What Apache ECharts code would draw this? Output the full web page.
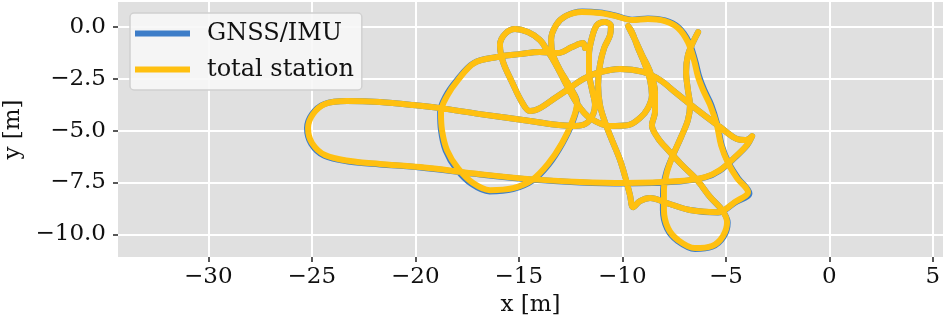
<!DOCTYPE html>
<html><head><meta charset="utf-8">
<script src="https://cdn.jsdelivr.net/npm/echarts@6/dist/echarts.min.js"></script>
<style>html,body{margin:0;padding:0;background:#fff}#c{width:945px;height:322px}</style>
</head><body><div id="c"></div>
<script>
// total station trajectory (metres)
const tsX = [-11.80,-11.90,-12.43,-13.11,-13.98,-14.94,-16.05,-17.16,-17.94,-18.47,-18.76,-18.71,-18.47,-17.94,-17.21,-16.39,-15.28,-14.36,-13.59,-12.91,-12.43,-12.19,-12.53,-13.01,-13.35,-13.44,-13.20,-12.72,-11.95,-11.08,-10.35,-9.53,-8.76,-7.94,-7.31,-6.83,-6.54,-6.34,-6.10,-5.76,-5.43,-5.23,-4.89,-4.46,-3.93,-4.56,-5.38,-6.73,-7.84,-8.66,-9.15,-9.48,-9.63,-9.82,-10.11,-10.50,-10.84,-11.08,-11.17,-11.08,-10.88,-10.59,-10.55,-10.84,-11.22,-11.46,-11.61,-11.61,-11.46,-11.32,-11.66,-12.29,-13.49,-14.46,-16.87,-18.81,-20.11,-21.71,-23.30,-24.36,-24.94,-25.18,-24.99,-24.36,-23.15,-21.71,-19.77,-16.87,-14.46,-12.04,-9.87,-7.21,-6.00,-5.28,-4.56,-3.98,-3.73,-4.07,-4.46,-5.28,-6.49,-7.45,-8.18,-9.00,-10.11,-11.22,-11.90,-12.53,-13.25,-13.98,-14.46,-14.85,-15.33,-15.76,-15.91,-15.67,-15.18,-14.56,-13.98,-13.64,-13.25,-12.77,-12.14,-11.56,-10.59,-9.72,-9.15,-8.76,-8.57,-8.66,-8.90,-9.24,-9.53,-9.72,-9.43,-9.05,-8.66,-8.42,-8.42,-8.57,-8.28,-7.79,-7.12,-6.39,-5.76,-5.18,-4.94,-5.14,-5.67,-6.49,-7.31,-7.79,-7.99,-7.99,-7.84,-7.55,-7.16,-6.83,-6.73,-6.83,-6.92,-6.83,-6.58,-6.34];
const tsY = [-1.03,-0.79,-0.98,-1.27,-1.22,-1.32,-1.46,-1.75,-2.57,-3.34,-4.11,-4.98,-5.94,-6.81,-7.53,-7.87,-7.77,-7.38,-6.61,-5.60,-4.59,-3.68,-2.90,-2.09,-1.36,-0.64,0.08,0.52,0.71,0.66,0.52,0.32,0.37,0.27,-0.06,-0.74,-1.60,-2.42,-3.05,-3.77,-4.74,-5.70,-6.57,-7.29,-7.96,-8.44,-8.93,-8.83,-8.49,-8.25,-8.40,-8.69,-8.11,-7.38,-6.42,-5.46,-4.59,-3.77,-2.81,-1.84,-1.03,-0.40,0.03,0.23,0.08,-0.50,-1.36,-2.18,-3.05,-3.77,-4.59,-4.78,-4.69,-4.54,-4.21,-3.92,-3.77,-3.63,-3.58,-3.72,-4.21,-4.88,-5.60,-6.18,-6.47,-6.61,-6.76,-7.10,-7.34,-7.48,-7.53,-7.43,-7.24,-6.90,-6.28,-5.70,-5.27,-5.46,-5.41,-4.83,-3.92,-3.15,-2.57,-2.18,-2.04,-2.23,-2.52,-2.95,-3.43,-3.92,-4.06,-3.63,-2.66,-1.70,-0.88,-0.35,-0.11,-0.26,-0.64,-1.12,-1.75,-2.66,-3.77,-4.40,-4.78,-4.74,-4.40,-3.92,-3.29,-2.57,-1.84,-1.03,-0.26,0.03,-0.54,-1.36,-2.18,-3.15,-4.11,-4.74,-5.36,-5.94,-6.66,-7.38,-8.20,-8.83,-9.41,-10.08,-10.56,-10.66,-10.27,-9.70,-8.83,-7.87,-7.00,-6.18,-5.31,-4.49,-3.77,-3.05,-2.18,-1.36,-0.74,-0.26];
// GNSS/IMU trajectory (metres)
const gnssX = [-11.80,-11.90,-12.43,-13.11,-13.98,-14.94,-16.05,-17.18,-17.99,-18.53,-18.80,-18.76,-18.53,-18.01,-17.27,-16.42,-15.28,-14.33,-13.55,-12.88,-12.40,-12.17,-12.53,-13.01,-13.35,-13.44,-13.20,-12.72,-11.95,-11.08,-10.35,-9.53,-8.76,-7.94,-7.28,-6.78,-6.49,-6.28,-6.04,-5.70,-5.40,-5.20,-4.86,-4.41,-3.86,-4.56,-5.38,-6.73,-7.84,-8.66,-9.15,-9.48,-9.63,-9.82,-10.11,-10.50,-10.84,-11.08,-11.17,-11.08,-10.88,-10.59,-10.55,-10.84,-11.22,-11.46,-11.61,-11.61,-11.46,-11.32,-11.66,-12.29,-13.49,-14.46,-16.87,-18.81,-20.11,-21.71,-23.30,-24.39,-24.99,-25.23,-25.03,-24.39,-23.15,-21.71,-19.77,-16.87,-14.46,-12.04,-9.87,-7.21,-6.00,-5.28,-4.56,-3.98,-3.73,-4.07,-4.46,-5.28,-6.49,-7.45,-8.18,-9.00,-10.11,-11.22,-11.90,-12.53,-13.25,-13.98,-14.46,-14.85,-15.33,-15.76,-15.91,-15.67,-15.18,-14.56,-13.98,-13.64,-13.25,-12.77,-12.14,-11.56,-10.59,-9.72,-9.15,-8.76,-8.57,-8.66,-8.90,-9.24,-9.53,-9.72,-9.43,-9.05,-8.66,-8.42,-8.42,-8.57,-8.28,-7.79,-7.12,-6.39,-5.76,-5.18,-4.91,-5.11,-5.67,-6.49,-7.34,-7.84,-8.04,-8.03,-7.87,-7.55,-7.16,-6.83,-6.73,-6.83,-6.92,-6.83,-6.58,-6.34];
const gnssY = [-1.03,-0.79,-0.98,-1.27,-1.22,-1.32,-1.46,-1.75,-2.57,-3.34,-4.11,-4.98,-5.97,-6.86,-7.58,-7.93,-7.82,-7.41,-6.63,-5.60,-4.59,-3.68,-2.90,-2.09,-1.36,-0.64,0.08,0.52,0.73,0.68,0.54,0.34,0.40,0.30,-0.04,-0.74,-1.60,-2.42,-3.05,-3.77,-4.74,-5.70,-6.57,-7.29,-8.02,-8.47,-8.95,-8.83,-8.49,-8.25,-8.40,-8.69,-8.11,-7.38,-6.42,-5.46,-4.59,-3.77,-2.81,-1.84,-1.03,-0.40,0.03,0.23,0.08,-0.50,-1.36,-2.18,-3.05,-3.77,-4.59,-4.78,-4.69,-4.54,-4.21,-3.92,-3.77,-3.63,-3.58,-3.72,-4.21,-4.88,-5.63,-6.22,-6.50,-6.63,-6.78,-7.12,-7.36,-7.50,-7.55,-7.45,-7.26,-6.92,-6.30,-5.72,-5.27,-5.46,-5.41,-4.83,-3.92,-3.15,-2.57,-2.18,-2.04,-2.23,-2.52,-2.95,-3.43,-3.92,-4.06,-3.63,-2.66,-1.70,-0.88,-0.35,-0.11,-0.26,-0.64,-1.12,-1.75,-2.66,-3.77,-4.40,-4.78,-4.74,-4.40,-3.92,-3.29,-2.57,-1.84,-1.03,-0.26,0.03,-0.54,-1.36,-2.18,-3.15,-4.11,-4.74,-5.36,-5.94,-6.66,-7.38,-8.20,-8.83,-9.43,-10.12,-10.60,-10.70,-10.31,-9.72,-8.83,-7.87,-7.00,-6.18,-5.31,-4.49,-3.77,-3.05,-2.18,-1.36,-0.74,-0.26];
const xTicks = [-30,-25,-20,-15,-10,-5,0,5];
const yTicks = [-10,-7.5,-5,-2.5,0];
const seriesNames = ['GNSS/IMU','total station'];

const font = 'DejaVu Serif';
const minus = s => s.replace('-', '\u2212');
const pairs = (xs, ys) => xs.map((x, i) => [x, ys[i]]);

const chart = echarts.init(document.getElementById('c'), null, {renderer: 'canvas'});
chart.setOption({
  animation: false,
  backgroundColor: '#ffffff',
  grid: {left: 118, right: 2, top: 2, bottom: 65, show: true, backgroundColor: '#e0e0e0', borderWidth: 0,
         containLabel: false, outerBoundsMode: 'none'},
  legend: {
    orient: 'vertical', left: 130, top: 13,
    data: seriesNames,
    icon: 'rect', itemWidth: 55, itemHeight: 6, itemGap: 9,
    padding: [7, 8, 7, 5],
    backgroundColor: 'rgba(247,247,247,0.9)', borderColor: '#d0d0d0', borderWidth: 1.5, borderRadius: 4,
    textStyle: {fontFamily: font, fontSize: 24, color: '#111', padding: [0, 0, 0, 12], lineHeight: 27}
  },
  xAxis: {
    type: 'value', min: -34.36, max: 5.49,
    name: 'x [m]', nameLocation: 'middle', nameGap: 35,
    nameTextStyle: {fontFamily: font, fontSize: 23, color: '#111'},
    axisLine: {show: true, onZero: false, lineStyle: {color: 'rgba(0,0,0,0)'}},
    axisTick: {show: true, customValues: xTicks, length: 5, lineStyle: {color: '#222', width: 1.5}},
    axisLabel: {customValues: xTicks, fontFamily: font, fontSize: 23, color: '#111', margin: 9,
      formatter: v => minus(String(v))},
    splitLine: {show: true, lineStyle: {color: '#ffffff', width: 2}}
  },
  yAxis: {
    type: 'value', min: -11.09, max: 1.19,
    name: 'y [m]', nameLocation: 'middle', nameGap: 90, nameRotate: 90,
    nameTextStyle: {fontFamily: font, fontSize: 23, color: '#111'},
    axisLine: {show: true, onZero: false, lineStyle: {color: 'rgba(0,0,0,0)'}},
    axisTick: {show: true, customValues: yTicks, length: 5, lineStyle: {color: '#222', width: 1.5}},
    axisLabel: {customValues: yTicks, fontFamily: font, fontSize: 23, color: '#111', margin: 12,
      formatter: v => minus(v.toFixed(1))},
    splitLine: {show: true, lineStyle: {color: '#ffffff', width: 2}}
  },
  series: [
    {name: seriesNames[0], type: 'line', data: pairs(gnssX, gnssY), showSymbol: false, smooth: 0.35,
     color: '#3d7dc8', lineStyle: {width: 6, color: '#3d7dc8', cap: 'round', join: 'round'}, z: 2},
    {name: seriesNames[1], type: 'line', data: pairs(tsX, tsY), showSymbol: false, smooth: 0.35,
     color: '#ffc010', lineStyle: {width: 6, color: '#ffc010', cap: 'round', join: 'round'}, z: 3}
  ]
});
</script></body></html>
